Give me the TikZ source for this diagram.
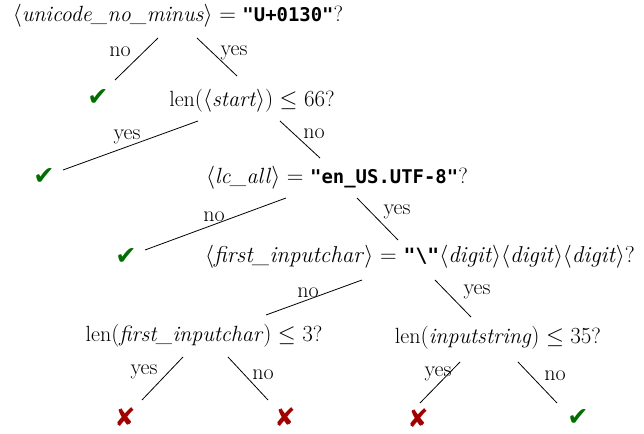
\documentclass[tikz,border=0pt]{standalone}
\usepackage{fontspec}
\setmainfont{Latin Modern Roman}
\newfontfamily\monofnt[Scale=0.86]{DejaVu Sans Mono}
\newfontfamily\symfnt{DejaVu Sans}
\usetikzlibrary{calc}
\definecolor{okgreen}{RGB}{0,110,0}
\definecolor{badred}{RGB}{160,0,0}
\newcommand{\nt}[1]{$\langle$\textit{#1}$\rangle$}
\newcommand{\tstr}[1]{{\monofnt\bfseries "#1"}}
\newcommand{\yesmark}{{\symfnt\color{okgreen}\char"2714}}
\newcommand{\nomark}{{\symfnt\color{badred}\char"2718}}
\begin{document}
\begin{tikzpicture}[x=0.75pt,y=-0.75pt,
  q/.style={inner sep=0pt,font=\fontsize{16.5}{19}\selectfont},
  lab/.style={inner sep=0pt,anchor=base,font=\fontsize{16.5}{19}\selectfont},
  leaf/.style={inner sep=0pt,font=\fontsize{19}{21}\selectfont},
  br/.style={line width=0.6pt}]
\useasboundingbox (0,0) rectangle (644,434);
% questions
\node[q] (r1) at (178,16) {\nt{unicode\_no\_minus} $=$ \tstr{U+0130}?};
\node[q] (r2) at (252,101) {$\mathrm{len}\bigl(\langle$\textit{start}$\rangle\bigr)\le 66$?};
\node[q] (r3) at (337,178) {\nt{lc\_all} $=$ \tstr{en\_US.UTF-8}?};
\node[q,font=\fontsize{17.2}{19}\selectfont] (r4) at (420,257) {\nt{first\_inputchar} $=$ \tstr{\textbackslash}\nt{digit}\nt{digit}\nt{digit}?};
\node[q] (r5a) at (204,336) {$\mathrm{len}\bigl($\textit{first\_inputchar}$\bigr)\le 3$?};
\node[q] (r5b) at (498,338) {$\mathrm{len}\bigl($\textit{inputstring}$\bigr)\le 35$?};
% leaves
\node[leaf] (c1) at (98,98) {\yesmark};
\node[leaf] (c2) at (44,177) {\yesmark};
\node[leaf] (c3) at (126,257) {\yesmark};
\node[leaf] (x1) at (125,417) {\nomark};
\node[leaf] (x2) at (285,417) {\nomark};
\node[leaf] (x3) at (418,418) {\nomark};
\node[leaf] (c4) at (578,418) {\yesmark};
% branch end points
\coordinate (r1n) at (158,38);  \coordinate (c1t) at (115,80);
\coordinate (r1y) at (197,38);  \coordinate (r2t) at (237,76);
\coordinate (r2y) at (198,121); \coordinate (c2t) at (63,170);
\coordinate (r2n) at (280,121); \coordinate (r3t) at (320,158);
\coordinate (r3n) at (286,198); \coordinate (c3t) at (145,250);
\coordinate (r3y) at (357,198); \coordinate (r4t) at (398,240);
\coordinate (r4n) at (362,280); \coordinate (r5at) at (266,315);
\coordinate (r4y) at (435,280); \coordinate (r5bt) at (471,317);
\coordinate (r5ay) at (183,357); \coordinate (x1t) at (142,400);
\coordinate (r5an) at (228,357); \coordinate (x2t) at (268,400);
\coordinate (r5by) at (460,362); \coordinate (x3t) at (420,403);
\coordinate (r5bn) at (518,362); \coordinate (c4t) at (557,403);
\draw[br] (r1n) -- (c1t);   \draw[br] (r1y) -- (r2t);
\draw[br] (r2y) -- (c2t);   \draw[br] (r2n) -- (r3t);
\draw[br] (r3n) -- (c3t);   \draw[br] (r3y) -- (r4t);
\draw[br] (r4n) -- (r5at);  \draw[br] (r4y) -- (r5bt);
\draw[br] (r5ay) -- (x1t);  \draw[br] (r5an) -- (x2t);
\draw[br] (r5by) -- (x3t);  \draw[br] (r5bn) -- (c4t);
% labels (positioned at their baselines)
\node[lab] (l1n) at (120,57) {no};
\node[lab] (l1y) at (234,56) {yes};
\node[lab] (l2y) at (127,140) {yes};
\node[lab] (l2n) at (314,139) {no};
\node[lab] (l3n) at (214,222) {no};
\node[lab] (l3y) at (397,215) {yes};
\node[lab] (l4n) at (308,298) {no};
\node[lab] (l4y) at (477,295) {yes};
\node[lab] (l5ay) at (144,375) {yes};
\node[lab] (l5an) at (263,380) {no};
\node[lab] (l5by) at (438,377) {yes};
\node[lab] (l5bn) at (555,381) {no};
\end{tikzpicture}
\end{document}
